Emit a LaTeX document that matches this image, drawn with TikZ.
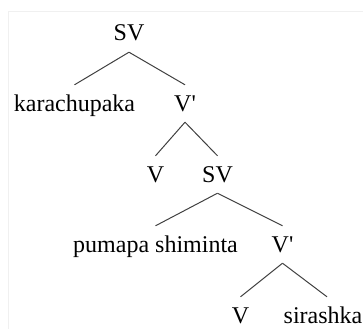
\documentclass[tikz,border=0pt]{standalone}
\usepackage{fontspec}
\setmainfont{Liberation Serif}
\tikzset{
  lbl/.style={anchor=base, inner xsep=0pt, inner ysep=6pt,
    text height=20pt, text depth=5pt,
    font=\fontsize{24}{28}\selectfont, text=black},
  branch/.style={draw=black!75, line width=1pt},
  frameline/.style={draw=black!6, line width=1pt}
}
\begin{document}
\begin{tikzpicture}[x=1pt,y=-1pt]
  \useasboundingbox (0,0) rectangle (363,329);
  % faint page frame
  \coordinate (fa) at (8,329);
  \coordinate (fb) at (8,12);
  \coordinate (fc) at (363,12);
  \draw[frameline] (fa) -- (fb) -- (fc);

  % labels (placed on their baselines)
  \node[lbl] (sv1)   at (129,41)   {SV};
  \node[lbl] (kara)  at (74.5,111) {karachupaka};
  \node[lbl] (vb1)   at (185,111)  {V\textquotesingle};
  \node[lbl] (v1)    at (155.5,182){V};
  \node[lbl] (sv2)   at (217.5,182){SV};
  \node[lbl] (puma)  at (155.5,252){pumapa shiminta};
  \node[lbl] (vb2)   at (282.5,252){V\textquotesingle};
  \node[lbl] (v2)    at (240.5,323){V};
  \node[lbl] (sira)  at (323,323)  {sirashka};

  % branches
  \draw[branch] (sv1.south) -- (kara.north);
  \draw[branch] (sv1.south) -- (vb1.north);
  \draw[branch] (vb1.south) -- (v1.north);
  \draw[branch] (vb1.south) -- (sv2.north);
  \draw[branch] (sv2.south) -- (puma.north);
  \draw[branch] (sv2.south) -- (vb2.north);
  \draw[branch] (vb2.south) -- (v2.north);
  \draw[branch] (vb2.south) -- ([xshift=4pt]sira.north);
\end{tikzpicture}
\end{document}
